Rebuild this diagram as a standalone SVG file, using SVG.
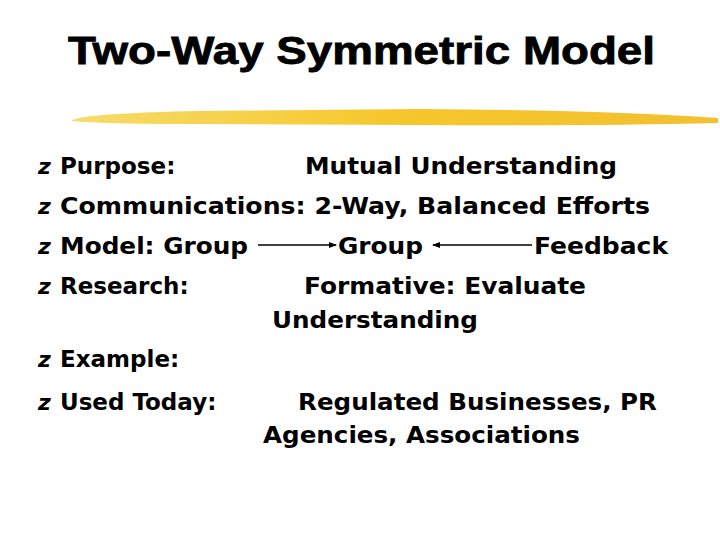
<svg xmlns="http://www.w3.org/2000/svg" width="720" height="540" viewBox="0 0 720 540">
<style>
.t{font-family:"DejaVu Sans",Verdana,sans-serif;font-weight:bold;font-size:23px;fill:#000}
.b{font-family:"DejaVu Sans",sans-serif;font-weight:bold;font-size:22px;fill:#000;font-style:italic}
.h{font-family:"Liberation Sans",Arial,sans-serif;font-weight:900;font-size:38px;fill:#000;stroke:#000;stroke-width:0.8}
</style>
<defs>
<marker id="ah" markerWidth="8" markerHeight="6" refX="7" refY="3" orient="auto" markerUnits="userSpaceOnUse"><path d="M0,0 L8,3 L0,6 Z" fill="#000"/></marker>
<linearGradient id="g" x1="0" x2="1"><stop offset="0" stop-color="#f7dc6a"/><stop offset="0.5" stop-color="#f5c72c"/><stop offset="1" stop-color="#f3c030"/></linearGradient>
</defs>
<rect width="720" height="540" fill="#fff"/>
<text class="h" x="68" y="64" textLength="587" lengthAdjust="spacingAndGlyphs">Two-Way Symmetric Model</text>
<path d="M72,120 Q90,113 200,111 L420,109 Q600,110 718,118 L718,123 Q600,126 420,125 L200,124 Q100,124 72,121 Z" fill="url(#g)"/>
<g id="bullets">
<text class="b" x="38" y="174">z</text><text class="b" x="38" y="214">z</text><text class="b" x="38" y="254">z</text><text class="b" x="38" y="294">z</text><text class="b" x="38" y="367">z</text><text class="b" x="38" y="410">z</text>
</g>
<g id="text">
<text class="t" x="60" y="174">Purpose:</text>
<text class="t" x="305" y="174" textLength="312" lengthAdjust="spacingAndGlyphs">Mutual Understanding</text>
<text class="t" x="60" y="214" textLength="590" lengthAdjust="spacingAndGlyphs">Communications: 2-Way, Balanced Efforts</text>
<text class="t" x="60" y="254" textLength="188" lengthAdjust="spacingAndGlyphs">Model: Group</text>
<text class="t" x="338" y="254" textLength="85" lengthAdjust="spacingAndGlyphs">Group</text>
<text class="t" x="534" y="254" textLength="134" lengthAdjust="spacingAndGlyphs">Feedback</text>
<text class="t" x="60" y="294">Research:</text>
<text class="t" x="304" y="294" textLength="282" lengthAdjust="spacingAndGlyphs">Formative: Evaluate</text>
<text class="t" x="272" y="328" textLength="206" lengthAdjust="spacingAndGlyphs">Understanding</text>
<text class="t" x="60" y="367">Example:</text>
<text class="t" x="60" y="410">Used Today:</text>
<text class="t" x="298" y="410" textLength="359" lengthAdjust="spacingAndGlyphs">Regulated Businesses, PR</text>
<text class="t" x="263" y="443" textLength="317" lengthAdjust="spacingAndGlyphs">Agencies, Associations</text>
</g>
<g id="connectors" stroke="#000" stroke-width="1.3" fill="none">
<line x1="258" y1="245" x2="336" y2="245" marker-end="url(#ah)"/>
<line x1="532" y1="245" x2="433" y2="245" marker-end="url(#ah)"/>
</g>
</svg>
